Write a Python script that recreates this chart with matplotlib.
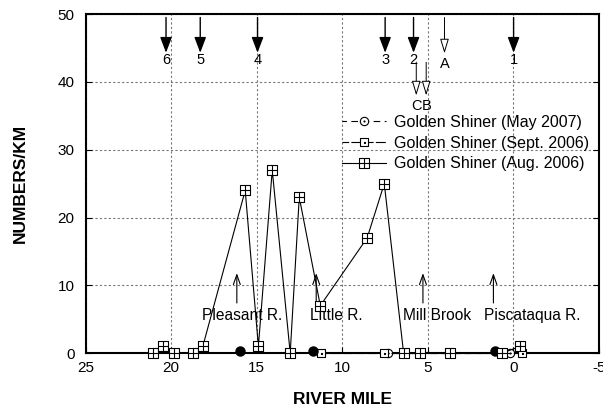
import numpy as np
import matplotlib
matplotlib.use('Agg')
from matplotlib import pyplot as plt
from matplotlib.path import Path

plt.rcParams['font.family'] = ['Liberation Sans', 'DejaVu Sans']
plt.rcParams['axes.unicode_minus'] = False

# Golden Shiner densities (numbers/km) vs river mile
aug_mile = [21.05, 20.5, 19.85, 18.73, 18.15, 15.67, 14.9, 14.09, 13.04, 12.51, 11.28, 8.54, 7.54, 6.41, 5.48, 3.68, 0.66, -0.41]
aug_val = [0, 1, 0, 0, 1, 24, 1, 27, 0, 23, 7, 17, 25, 0, 0, 0, 0, 1]
sep_mile = [11.23, 7.58, -0.5]
sep_val = [0, 0, 0]
may_mile = [7.3, 0.17]
may_val = [0, 0]
may_zero_mile = [16.0, 11.7, 1.05]
may_zero_val = [0.3, 0.3, 0.3]

# sampling stations (top arrows)
stn_labels = ['6', '5', '4', '3', '2', '1']
stn_mile = [20.3, 18.3, 14.95, 7.49, 5.83, -0.02]
open_labels = ['A', 'C', 'B']
open_mile = [4.02, 5.67, 5.09]
open_top = [49.5, 42.9, 42.9]
open_tip = [44.2, 38.0, 38.0]

# tributaries
trib_labels = ['Pleasant R.', 'Little R.', 'Mill Brook', 'Piscataqua R.']
trib_mile = [16.16, 11.52, 5.28, 1.16]
trib_text_x = [15.85, 10.35, 4.45, -1.1]

# markers
boxplus = Path([(-1, -1), (1, -1), (1, 1), (-1, 1), (-1, -1), (0, -1), (0, 1), (-1, 0), (1, 0)],
               [Path.MOVETO, Path.LINETO, Path.LINETO, Path.LINETO, Path.CLOSEPOLY,
                Path.MOVETO, Path.LINETO, Path.MOVETO, Path.LINETO])
boxdot = Path([(-1, -1), (1, -1), (1, 1), (-1, 1), (-1, -1),
               (-0.12, -0.12), (0.12, -0.12), (0.12, 0.12), (-0.12, 0.12), (-0.12, -0.12)],
              [Path.MOVETO, Path.LINETO, Path.LINETO, Path.LINETO, Path.CLOSEPOLY] * 2)
circdot = Path.make_compound_path(Path.unit_circle(), Path.circle(radius=0.12))

fig = plt.figure(figsize=(6.03, 4.15), dpi=100)
ax = fig.add_axes([0.142, 0.149, 0.851, 0.817])

ax.plot(may_mile, may_val, linestyle=(2, (6, 4)), color='black', lw=0.8, marker=circdot,
        ms=6, mfc='white', mec='black', mew=0.8, clip_on=False, zorder=4,
        label='Golden Shiner (May 2007)')
ax.plot(sep_mile, sep_val, linestyle=(3, (9, 2)), color='black', lw=0.8, marker=boxdot,
        ms=6, mfc='white', mec='black', mew=0.8, clip_on=False, zorder=4,
        label='Golden Shiner (Sept. 2006)')
ax.plot(aug_mile, aug_val, linestyle='-', color='black', lw=0.8, marker=boxplus,
        ms=6.5, mfc='white', mec='black', mew=0.8, clip_on=False, zorder=5,
        label='Golden Shiner (Aug. 2006)')
ax.plot(may_zero_mile, may_zero_val, linestyle='none', marker='o', ms=6.5, color='black',
        clip_on=False, zorder=4)

for lab, m in zip(stn_labels, stn_mile):
    ax.annotate('', xy=(m, 44.3), xytext=(m, 49.5),
                arrowprops=dict(arrowstyle='-|>,head_length=0.95,head_width=0.36',
                                fc='black', ec='black', lw=1, shrinkA=0, shrinkB=0))
    ax.text(m, 43.2, lab, ha='center', va='center', fontsize=10.5)

for lab, m, t0, t1 in zip(open_labels, open_mile, open_top, open_tip):
    ax.annotate('', xy=(m, t1), xytext=(m, t0),
                arrowprops=dict(arrowstyle='-|>,head_length=0.9,head_width=0.27',
                                fc='white', ec='black', lw=0.7, shrinkA=0, shrinkB=0))
    ax.text(m, t1 - 1.6, lab, ha='center', va='center', fontsize=10.5)

for lab, m, tx in zip(trib_labels, trib_mile, trib_text_x):
    ax.annotate('', xy=(m, 11.8), xytext=(m, 7.4),
                arrowprops=dict(arrowstyle='->,head_length=0.7,head_width=0.25',
                                color='black', lw=0.8, shrinkA=0, shrinkB=0))
    ax.text(tx, 5.5, lab, ha='center', va='center', fontsize=11.2)

ax.set_xlim(25, -5)
ax.set_ylim(0, 50)
ax.set_xticks([25, 20, 15, 10, 5, 0, -5])
ax.set_yticks([0, 10, 20, 30, 40, 50])
ax.tick_params(direction='in', length=4, labelsize=11, top=False, right=True)
ax.tick_params(axis='y', pad=8)
ax.tick_params(axis='x', pad=6)
ax.grid(True, linestyle=(0, (2, 2)), color='#777777', lw=0.8)
for s in ax.spines.values():
    s.set_linewidth(1.5)

ax.set_xlabel('RIVER MILE', fontsize=12.5, fontweight='bold', labelpad=12)
ax.set_ylabel('NUMBERS/KM', fontsize=12.5, fontweight='bold', labelpad=21.5)

ax.legend(loc='upper left', bbox_to_anchor=(0.5, 0.703), frameon=False, fontsize=11.5,
          handlelength=2.75, handletextpad=0.5, labelspacing=0.36, borderpad=0,
          borderaxespad=0)

fig.savefig('out.png', dpi=100)
